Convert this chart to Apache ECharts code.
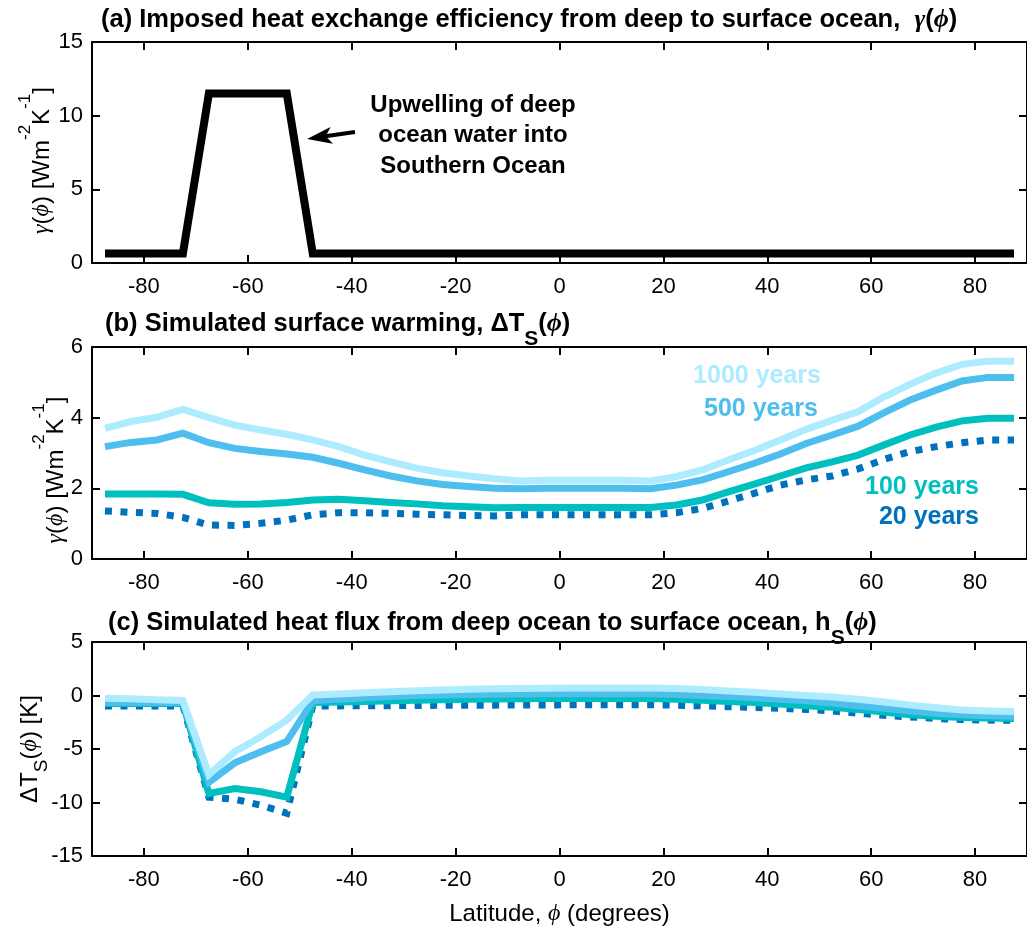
<!DOCTYPE html>
<html>
<head>
<meta charset="utf-8">
<script src="https://cdn.jsdelivr.net/npm/echarts@6/dist/echarts.min.js"></script>
<style>
html,body{margin:0;padding:0;background:#fff;}
#chart{width:1027px;height:930px;}
</style>
</head>
<body>
<div id="chart"></div>
<script>
// ---------------- DATA ----------------
const LAT = [-87.5,-82.5,-77.5,-72.5,-67.5,-62.5,-57.5,-52.5,-47.5,-42.5,-37.5,-32.5,-27.5,-22.5,-17.5,-12.5,-7.5,-2.5,
             2.5,7.5,12.5,17.5,22.5,27.5,32.5,37.5,42.5,47.5,52.5,57.5,62.5,67.5,72.5,77.5,82.5,87.5];
const X_TICKS = [-80,-60,-40,-20,0,20,40,60,80];

// (a) imposed gamma
const GAMMA = [0.65,0.65,0.65,0.65,11.5,11.5,11.5,11.5,0.65,0.65,0.65,0.65,0.65,0.65,0.65,0.65,0.65,0.65,
               0.65,0.65,0.65,0.65,0.65,0.65,0.65,0.65,0.65,0.65,0.65,0.65,0.65,0.65,0.65,0.65,0.65,0.65];

// (b) surface warming
const WARM_1000 = [3.70,3.89,4.01,4.24,4.00,3.79,3.65,3.53,3.37,3.18,2.94,2.75,2.57,2.44,2.35,2.27,2.21,2.23,
                   2.23,2.23,2.23,2.21,2.33,2.52,2.80,3.07,3.37,3.67,3.93,4.17,4.59,4.95,5.26,5.51,5.60,5.60];
const WARM_500  = [3.18,3.30,3.37,3.56,3.29,3.13,3.04,2.97,2.88,2.71,2.52,2.35,2.21,2.11,2.05,2.00,1.99,2.00,
                   2.00,2.00,2.00,1.99,2.09,2.24,2.47,2.71,2.97,3.27,3.51,3.76,4.14,4.50,4.78,5.04,5.14,5.14];
const WARM_100  = [1.84,1.84,1.84,1.83,1.59,1.55,1.56,1.60,1.67,1.69,1.65,1.60,1.56,1.51,1.48,1.45,1.46,1.46,
                   1.46,1.46,1.46,1.46,1.53,1.67,1.90,2.12,2.35,2.58,2.75,2.94,3.23,3.51,3.73,3.91,3.98,3.98];
const WARM_20   = [1.36,1.32,1.29,1.18,0.96,0.95,1.01,1.10,1.25,1.31,1.31,1.29,1.27,1.25,1.23,1.22,1.25,1.25,
                   1.25,1.25,1.25,1.25,1.31,1.43,1.64,1.86,2.09,2.24,2.35,2.55,2.82,3.04,3.18,3.29,3.37,3.37];

// (c) heat flux
const FLUX_1000 = [-0.25,-0.3,-0.4,-0.47,-7.4,-5.25,-3.85,-2.3,0.05,0.15,0.25,0.35,0.45,0.52,0.58,0.62,0.66,0.68,
                   0.7,0.7,0.7,0.7,0.65,0.55,0.42,0.3,0.15,0.0,-0.15,-0.35,-0.6,-0.9,-1.15,-1.35,-1.45,-1.5];
const FLUX_500  = [-0.65,-0.65,-0.65,-0.65,-8.1,-6.3,-5.25,-4.3,-0.5,-0.35,-0.2,-0.1,0.0,0.05,0.1,0.12,0.15,0.16,
                   0.17,0.17,0.17,0.16,0.1,0.0,-0.1,-0.2,-0.35,-0.5,-0.7,-0.95,-1.2,-1.45,-1.65,-1.8,-1.9,-1.95];
const FLUX_100  = [-0.75,-0.75,-0.75,-0.75,-9.15,-8.7,-9.0,-9.5,-0.65,-0.6,-0.55,-0.5,-0.45,-0.4,-0.35,-0.32,-0.3,-0.28,
                   -0.27,-0.27,-0.27,-0.28,-0.35,-0.45,-0.55,-0.65,-0.8,-0.95,-1.1,-1.3,-1.55,-1.8,-1.95,-2.05,-2.1,-2.15];
const FLUX_20   = [-0.97,-0.97,-0.97,-0.97,-9.5,-9.7,-10.25,-11.0,-0.97,-0.97,-0.96,-0.95,-0.93,-0.92,-0.9,-0.9,-0.88,-0.88,
                   -0.87,-0.87,-0.87,-0.87,-0.9,-0.97,-1.05,-1.12,-1.2,-1.3,-1.45,-1.65,-1.85,-2.0,-2.15,-2.25,-2.3,-2.32];

const SERIES_NAMES = ['20 years','100 years','500 years','1000 years'];

// ---------------- STYLE ----------------
const SANS = '"Liberation Sans", Arial, Helvetica, sans-serif';
const SERIF = '"Liberation Serif", "DejaVu Serif", serif';
const C1000 = '#ADEBFF', C500 = '#4DBEEE', C100 = '#00BFBF', C20 = '#0072BD';

const chart = echarts.init(document.getElementById('chart'), null, {renderer: 'canvas'});

const grids = [
  {left: 92, top: 42, width: 939, height: 221},
  {left: 92, top: 347, width: 939, height: 212},
  {left: 92, top: 642, width: 939, height: 214}
];

function pairs(ys) { return LAT.map((x, i) => [x, ys[i]]); }

const axisLine = {show: true, onZero: false, lineStyle: {color: '#000', width: 2}};
const tick = {show: true, inside: true, length: 8, lineStyle: {color: '#000', width: 2}};

const xAxes = [];
grids.forEach((g, i) => {
  xAxes.push({
    gridIndex: i, type: 'value', min: -90, max: 90, position: 'bottom',
    axisLine: axisLine,
    axisTick: Object.assign({}, tick, {customValues: X_TICKS}),
    axisLabel: {customValues: X_TICKS, fontSize: 22, color: '#000', fontFamily: SANS, margin: 13},
    splitLine: {show: false},
    name: i === 2 ? '{n|Latitude, }{g|ϕ}{n| (degrees)}' : '',
    nameLocation: 'middle', nameGap: 44, nameMoveOverlap: false,
    nameTextStyle: {
      color: '#000',
      rich: {
        n: {fontSize: 24, fontFamily: SANS, color: '#000', lineHeight: 28},
        g: {fontSize: 24, fontFamily: SERIF, fontStyle: 'italic', color: '#000', lineHeight: 28}
      }
    }
  });
  xAxes.push({
    gridIndex: i, type: 'value', min: -90, max: 90, position: 'top',
    axisLine: axisLine,
    axisTick: Object.assign({}, tick, {customValues: X_TICKS}),
    axisLabel: {show: false},
    splitLine: {show: false}
  });
});

function supRich(spacer) {
  return {
    b: {fontSize: 24, fontFamily: SANS, color: '#000', lineHeight: 26, verticalAlign: 'bottom'},
    g: {fontSize: 24, fontFamily: SERIF, fontStyle: 'italic', color: '#000', lineHeight: 26, verticalAlign: 'bottom'},
    p: {fontSize: 17, fontFamily: SANS, color: '#000', lineHeight: 20, verticalAlign: 'top'},
    e: {fontSize: 10, lineHeight: 37, width: spacer, verticalAlign: 'bottom'}
  };
}
const richSub = {
  b: {fontSize: 24, fontFamily: SANS, color: '#000', lineHeight: 26, verticalAlign: 'top'},
  g: {fontSize: 24, fontFamily: SERIF, fontStyle: 'italic', color: '#000', lineHeight: 26, verticalAlign: 'top'},
  s: {fontSize: 19, fontFamily: SANS, color: '#000', lineHeight: 19, padding: [14, 0, 0, 0], verticalAlign: 'top'}
};

const gammaName = '{g|γ}{b|(}{g|ϕ}{b|) [Wm}{p|-2}{b|K}{p|-1}{b|]}{e| }';
const yDefs = [
  {min: 0, max: 15, interval: 5, name: gammaName, rich: supRich(16), gap: 38},
  {min: 0, max: 6, interval: 2, name: gammaName, rich: supRich(34), gap: 24},
  {min: -15, max: 5, interval: 5, name: '{b|ΔT}{s|S}{b|(}{g|ϕ}{b|) [K]}', rich: richSub, gap: 48}
];
const yAxes = [];
yDefs.forEach((d, i) => {
  yAxes.push({
    gridIndex: i, type: 'value', min: d.min, max: d.max, interval: d.interval, position: 'left',
    axisLine: axisLine, axisTick: tick,
    axisLabel: {fontSize: 22, color: '#000', fontFamily: SANS, margin: 9},
    splitLine: {show: false},
    name: d.name, nameLocation: 'middle', nameGap: d.gap, nameRotate: 90, nameMoveOverlap: false,
    nameTextStyle: {color: '#000', rich: d.rich}
  });
  yAxes.push({
    gridIndex: i, type: 'value', min: d.min, max: d.max, interval: d.interval, position: 'right',
    axisLine: axisLine, axisTick: tick,
    axisLabel: {show: false}, splitLine: {show: false}
  });
});

function lineSeries(name, ys, gi, color, width, dashed, z) {
  return {
    name: name, type: 'line', xAxisIndex: gi * 2, yAxisIndex: gi * 2,
    data: pairs(ys), showSymbol: false, symbol: 'none', smooth: false,
    animation: false, z: z,
    lineStyle: {color: color, width: width, type: dashed ? [7, 8.5] : 'solid', cap: 'butt', join: 'miter'}
  };
}

const series = [
  lineSeries('gamma', GAMMA, 0, '#000', 8, false, 2),
  lineSeries(SERIES_NAMES[0], WARM_20, 1, C20, 7, true, 2),
  lineSeries(SERIES_NAMES[1], WARM_100, 1, C100, 7, false, 3),
  lineSeries(SERIES_NAMES[2], WARM_500, 1, C500, 7, false, 4),
  lineSeries(SERIES_NAMES[3], WARM_1000, 1, C1000, 7, false, 5),
  lineSeries(SERIES_NAMES[0], FLUX_20, 2, C20, 7, true, 2),
  lineSeries(SERIES_NAMES[1], FLUX_100, 2, C100, 7, false, 3),
  lineSeries(SERIES_NAMES[2], FLUX_500, 2, C500, 7, false, 4),
  lineSeries(SERIES_NAMES[3], FLUX_1000, 2, C1000, 7, false, 5)
];

const titleRich = {
  b: {fontSize: 25.5, fontWeight: 'bold', fontFamily: SANS, color: '#000', lineHeight: 28, verticalAlign: 'top'},
  g: {fontSize: 26, fontWeight: 'bold', fontStyle: 'italic', fontFamily: SERIF, color: '#000', lineHeight: 28, verticalAlign: 'top'},
  s: {fontSize: 21, fontWeight: 'bold', fontFamily: SANS, color: '#000', lineHeight: 21, padding: [18, 0, 0, 0], verticalAlign: 'top'}
};
const titles = [
  {text: '{b|(a) Imposed heat exchange efficiency from deep to surface ocean,  }{g|γ}{b|(}{g|ϕ}{b|)}', left: 101, top: 7},
  {text: '{b|(b) Simulated surface warming, ΔT}{s|S}{b|(}{g|ϕ}{b|)}', left: 105, top: 311},
  {text: '{b|(c) Simulated heat flux from deep ocean to surface ocean, h}{s|S}{b|(}{g|ϕ}{b|)}', left: 108, top: 610}
].map(t => Object.assign(t, {padding: 0, textStyle: {rich: titleRich, fontSize: 25.5, fontWeight: 'bold'}}));

// arrow annotation (pixel geometry)
const tail = [355, 132], tip = [307, 139];
const dx = tip[0] - tail[0], dy = tip[1] - tail[1];
const L = Math.sqrt(dx * dx + dy * dy), ux = dx / L, uy = dy / L, nx = -uy, ny = ux;
const headLen = 25, headW = 8.5, notch = 19;
const head = [
  tip,
  [tip[0] - ux * headLen + nx * headW, tip[1] - uy * headLen + ny * headW],
  [tip[0] - ux * notch, tip[1] - uy * notch],
  [tip[0] - ux * headLen - nx * headW, tip[1] - uy * headLen - ny * headW]
];

const labelFont = 'bold 24px ' + SANS;
const graphic = [
  {type: 'line', shape: {x1: tail[0], y1: tail[1], x2: tip[0] - ux * 15, y2: tip[1] - uy * 15},
   style: {stroke: '#000', lineWidth: 4}, z: 10},
  {type: 'polygon', shape: {points: head}, style: {fill: '#000'}, z: 10},
  {type: 'text', x: 473, y: 135.5, z: 10,
   style: {text: 'Upwelling of deep\nocean water into\nSouthern Ocean', font: labelFont, fill: '#000',
           textAlign: 'center', textVerticalAlign: 'middle', lineHeight: 30.5}},
  {type: 'text', x: 821, y: 376, z: 10,
   style: {text: SERIES_NAMES[3], font: 'bold 25px ' + SANS, fill: C1000, textAlign: 'right', textVerticalAlign: 'middle'}},
  {type: 'text', x: 818, y: 409, z: 10,
   style: {text: SERIES_NAMES[2], font: 'bold 25px ' + SANS, fill: C500, textAlign: 'right', textVerticalAlign: 'middle'}},
  {type: 'text', x: 979, y: 487, z: 10,
   style: {text: SERIES_NAMES[1], font: 'bold 25px ' + SANS, fill: C100, textAlign: 'right', textVerticalAlign: 'middle'}},
  {type: 'text', x: 979, y: 517, z: 10,
   style: {text: SERIES_NAMES[0], font: 'bold 25px ' + SANS, fill: C20, textAlign: 'right', textVerticalAlign: 'middle'}}
];

chart.setOption({
  animation: false,
  backgroundColor: '#fff',
  title: titles,
  grid: grids,
  xAxis: xAxes,
  yAxis: yAxes,
  series: series,
  graphic: graphic
});
</script>
</body>
</html>
